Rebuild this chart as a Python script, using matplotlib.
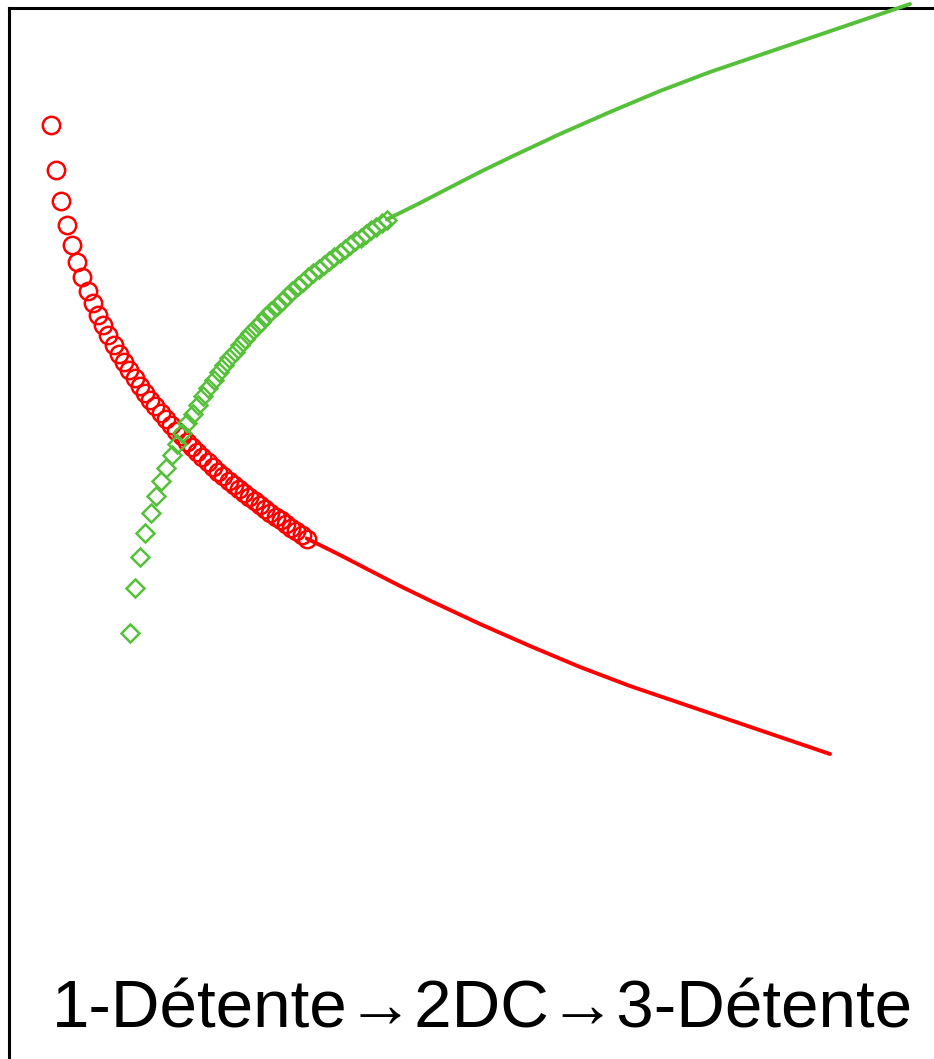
import matplotlib
matplotlib.use("Agg")
import matplotlib.pyplot as plt

# expansion branch (circles) and its continuation line
red_x = [51.0, 56.2, 61.4, 66.7, 71.9, 77.1, 82.3, 87.5, 92.8, 98.0,
         103.2, 108.4, 113.6, 118.9, 124.1, 129.3, 134.5, 139.7, 145.0, 150.2,
         155.4, 160.6, 165.8, 171.1, 176.3, 181.5, 186.7, 191.9, 197.2, 202.4,
         207.6, 212.8, 218.0, 223.3, 228.5, 233.7, 238.9, 244.1, 249.4, 254.6,
         259.8, 265.0, 270.2, 275.5, 280.7, 285.9, 291.1, 296.3, 301.6, 306.8]
red_y = [934, 889, 858, 834, 814, 797, 782, 768.5, 756, 744.5,
         734, 724, 714.5, 705.5, 696.9, 688.7, 680.9, 673.4, 666.2, 659.3,
         652.7, 646.3, 640.1, 634.1, 628.3, 622.7, 617.2, 611.9, 606.7, 601.6,
         596.6, 591.9, 587.3, 582.8, 578.4, 574.1, 569.9, 565.8, 561.8, 557.8,
         553.9, 550.0, 546.2, 542.4, 538.7, 535.0, 531.3, 527.7, 524.1, 520.5]
red_line_x = [306.8, 340, 367, 400, 433, 480, 530, 580, 630, 680, 730, 780, 830]
red_line_y = [520.5, 504, 490, 473, 457, 435, 413, 392, 373, 356, 339, 322, 305]

# compression branch (diamonds) and its continuation line
green_x = [129.5, 134.8, 140.0, 145.3, 150.5, 155.8, 161.0, 166.3, 171.5, 176.8,
           182.0, 187.3, 192.5, 197.8, 203.0, 208.3, 213.5, 218.8, 224.0, 229.3,
           234.5, 239.8, 245.0, 250.3, 255.5, 260.8, 266.0, 271.3, 276.5, 281.8,
           287.0, 292.3, 297.5, 302.8, 308.0, 313.3, 318.5, 323.8, 329.0, 334.3,
           339.5, 344.8, 350.0, 355.3, 360.5, 365.8, 371.0, 376.3, 381.5, 386.8]
green_y = [426, 471, 502, 526, 546, 563, 578, 591.5, 604, 615.5,
           626, 636, 645.5, 654.5, 663.1, 671.3, 679.1, 686.6, 693.8, 700.7,
           707.3, 713.7, 719.9, 725.9, 731.7, 737.3, 742.8, 748.1, 753.3, 758.4,
           763.4, 768.1, 772.7, 777.2, 781.6, 785.9, 790.1, 794.2, 798.2, 802.2,
           806.1, 810.0, 813.8, 817.6, 821.3, 825.0, 828.7, 832.3, 835.9, 839.5]
green_line_x = [386.8, 420, 447, 480, 513, 560, 610, 660, 710, 760, 810, 860, 910]
green_line_y = [839.5, 856, 870, 887, 903, 925, 947, 968, 987, 1004, 1021, 1038, 1055]

caption = "1-Détente\u21922DC\u21923-Détente"

RED = "#FF0000"
GREEN = "#56C03A"

W, H = 934, 1059
fig = plt.figure(figsize=(W / 100, H / 100), dpi=100)
left, top = 8.5, 7.5
ax = fig.add_axes([left / W, -50 / H, (960 - left) / W, (H - top + 50) / H])
ax.set_xlim(left, 960)
ax.set_ylim(-50, H - top)
for side in ("right", "bottom"):
    ax.spines[side].set_visible(False)
for side in ("left", "top"):
    ax.spines[side].set_linewidth(2.2)
ax.set_xticks([])
ax.set_yticks([])

ax.plot(red_line_x, red_line_y, color=RED, lw=2.8, solid_capstyle="round", zorder=3)
ax.plot(red_x, red_y, ls="none", marker="o", ms=12.5, mfc="none", mec=RED, mew=1.8, zorder=4)
ax.plot(green_line_x, green_line_y, color=GREEN, lw=2.8, solid_capstyle="round",
        clip_on=False, zorder=5)
ax.plot(green_x, green_y, ls="none", marker="D", ms=9.5, mfc="none", mec=GREEN, mew=1.8,
        zorder=5)

fig.text(482 / W, (H - 1028) / H, caption, ha="center", va="baseline",
         fontsize=48.5, family=["Liberation Sans", "DejaVu Sans"])

fig.savefig("out.png", dpi=100)
